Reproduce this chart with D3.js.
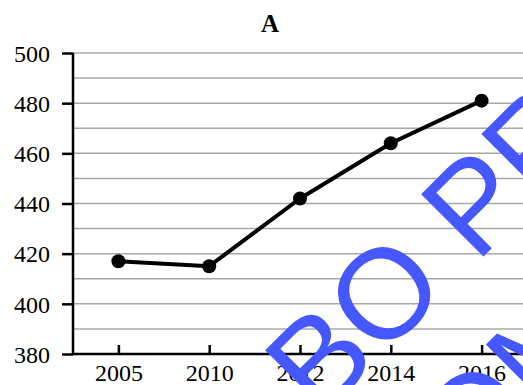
<!DOCTYPE html>
<html>
<head>
<meta charset="utf-8">
<script src="https://cdn.jsdelivr.net/npm/d3@7"></script>
<style>
  body { margin: 0; background: #fff; }
  svg { display: block; }
</style>
</head>
<body>
<script>
const width = 523;
const height = 385;

// data
const years = ['2005', '2010', '2012', '2014', '2016'];
const values = [417, 415, 442, 464, 481];
const yTicks = [380, 400, 420, 440, 460, 480, 500];
const yGrid = [390, 400, 410, 420, 430, 440, 450, 460, 470, 480, 490, 500];
const title = 'A';

const svg = d3.select('body').append('svg')
    .attr('width', width)
    .attr('height', height);

const x = d3.scalePoint()
    .domain(years)
    .range([73, 527])
    .padding(0.5);

const y = d3.scaleLinear()
    .domain([380, 500])
    .range([354, 53]);

// grid lines
svg.append('g')
    .selectAll('line')
    .data(yGrid)
    .enter()
    .append('line')
    .attr('x1', 73)
    .attr('x2', width)
    .attr('y1', d => y(d))
    .attr('y2', d => y(d))
    .attr('stroke', '#a8a8a8')
    .attr('stroke-width', 1.5);

// y axis
const yAxis = svg.append('g')
    .attr('transform', 'translate(73,0)')
    .call(d3.axisLeft(y).tickValues(yTicks).tickSize(11).tickPadding(12));
yAxis.select('.domain').remove();
yAxis.selectAll('line').attr('stroke', '#000').attr('stroke-width', 2.5);
yAxis.selectAll('text')
    .attr('font-family', '"Liberation Serif", "Times New Roman", serif')
    .attr('font-size', 24)
    .attr('fill', '#000')
    .attr('dy', '0.34em');

// x axis, ticks point inward
const xAxis = svg.append('g')
    .attr('transform', 'translate(0,354)')
    .call(d3.axisBottom(x).tickSizeInner(-9).tickSizeOuter(0).tickPadding(10));
xAxis.select('.domain').remove();
xAxis.selectAll('line').attr('stroke', '#000').attr('stroke-width', 2.5);
xAxis.selectAll('text')
    .attr('font-family', '"Liberation Serif", "Times New Roman", serif')
    .attr('font-size', 24)
    .attr('fill', '#000');

// axis lines
svg.append('path')
    .attr('d', `M73,${y(500)}V354H${width}`)
    .attr('fill', 'none')
    .attr('stroke', '#000')
    .attr('stroke-width', 2.5);

// the series
const line = d3.line()
    .x((d, i) => x(years[i]))
    .y(d => y(d));

svg.append('path')
    .datum(values)
    .attr('d', line)
    .attr('fill', 'none')
    .attr('stroke', '#000')
    .attr('stroke-width', 4)
    .attr('stroke-linejoin', 'round');

svg.append('g')
    .selectAll('circle')
    .data(values)
    .enter()
    .append('circle')
    .attr('cx', (d, i) => x(years[i]))
    .attr('cy', d => y(d))
    .attr('r', 7)
    .attr('fill', '#000');

// title
svg.append('text')
    .attr('x', 270)
    .attr('y', 32)
    .attr('text-anchor', 'middle')
    .attr('font-family', '"Liberation Serif", "Times New Roman", serif')
    .attr('font-weight', 'bold')
    .attr('font-size', 25)
    .text(title);

// watermark
const wm = svg.append('g')
    .attr('font-family', '"Liberation Sans", Arial, sans-serif')
    .attr('font-size', 128)
    .attr('fill', '#4557ff');
wm.append('text')
    .attr('transform', 'translate(320,420) rotate(-45)')
    .text('BO PR');
wm.append('text')
    .attr('transform', 'translate(410,545) rotate(-45)')
    .text('BOM');
</script>
</body>
</html>
